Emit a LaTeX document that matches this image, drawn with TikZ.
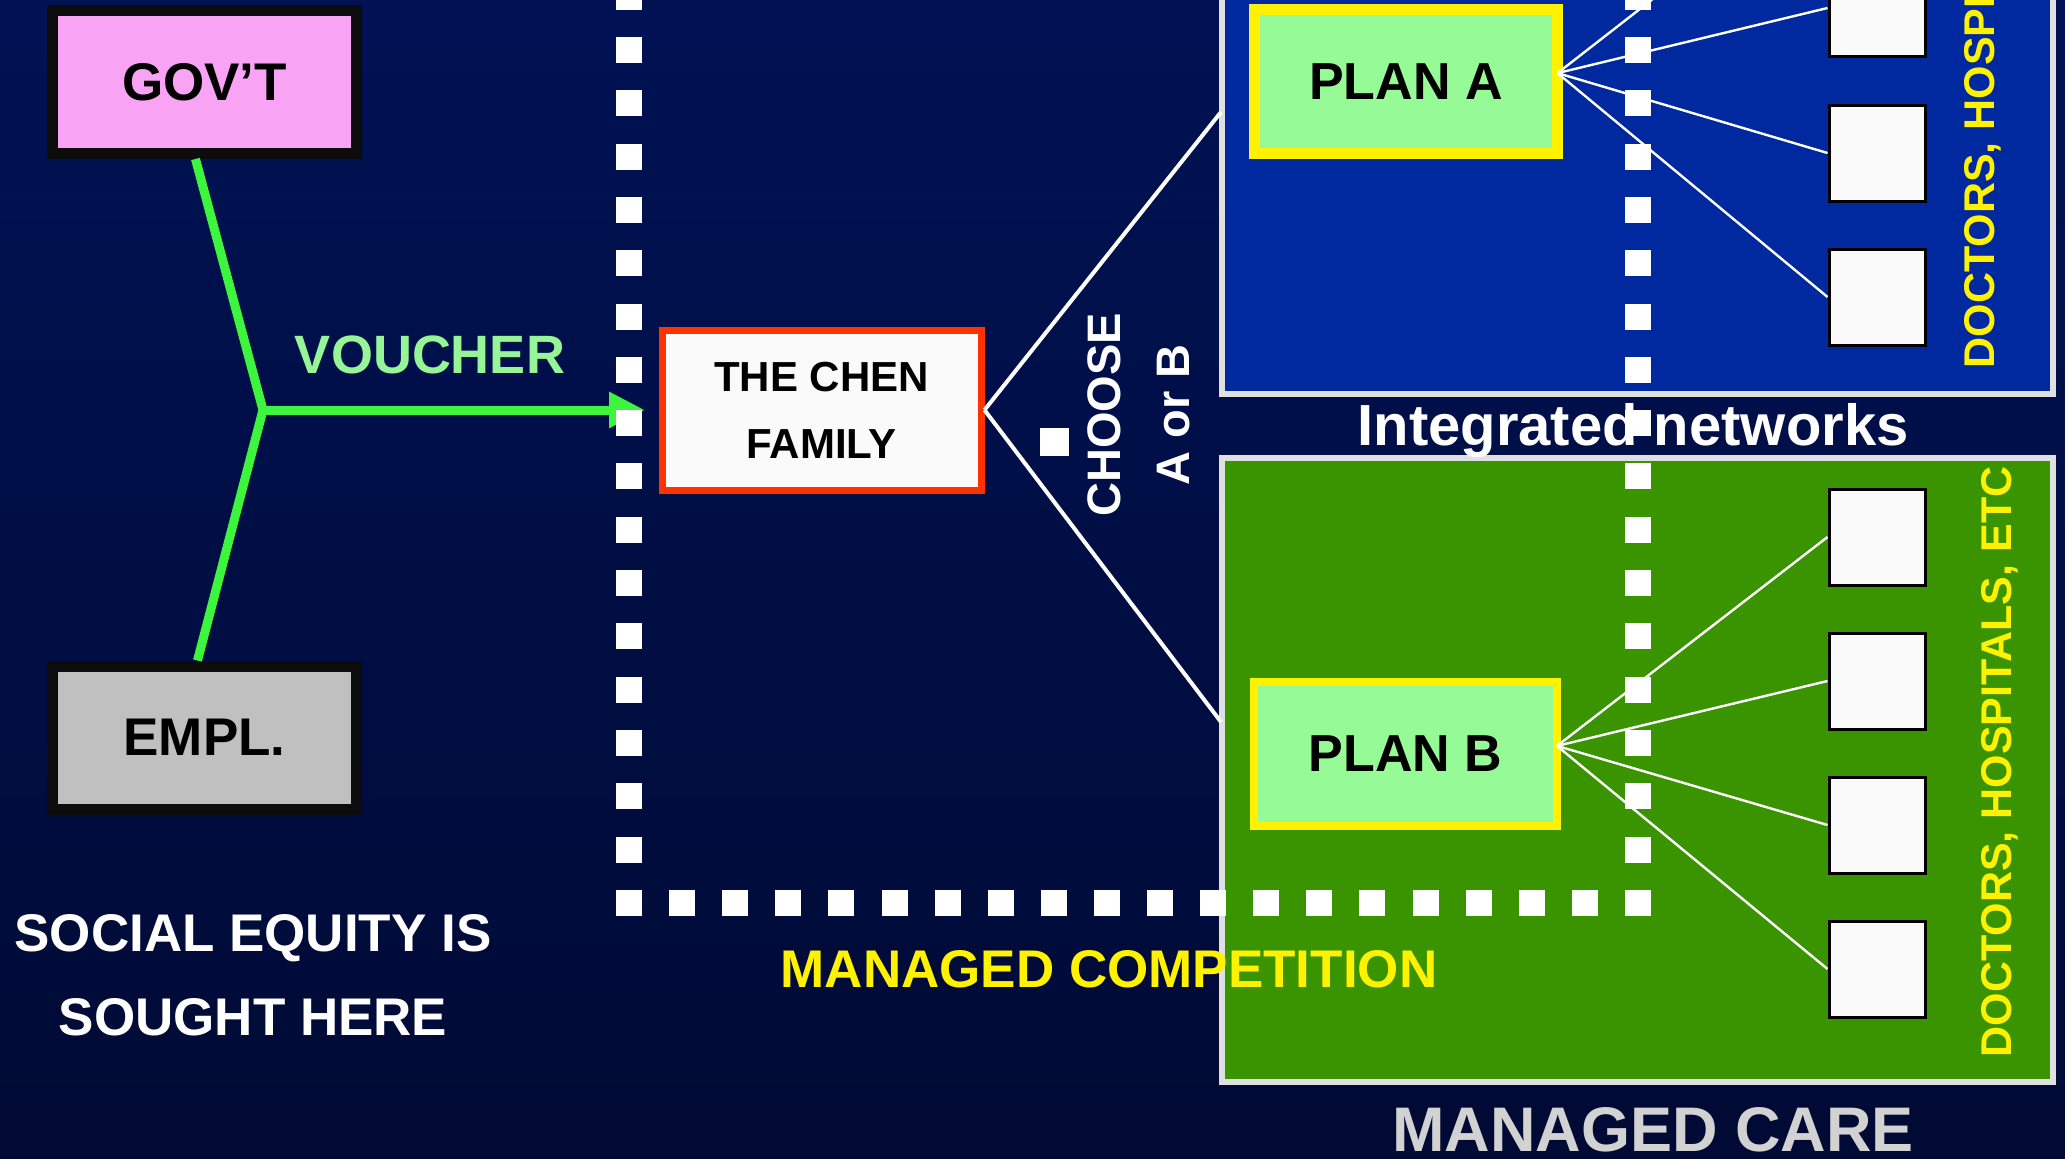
\documentclass[tikz,border=0pt]{standalone}
\usepackage{fontspec}
\setmainfont{Liberation Sans}
\usetikzlibrary{arrows.meta,calc}
\definecolor{bgtop}{RGB}{0,18,84}
\definecolor{bgmid}{RGB}{0,28,112}
\definecolor{bgbot}{RGB}{0,10,52}
\definecolor{panelblue}{RGB}{0,41,160}
\definecolor{panelgreen}{RGB}{58,148,0}
\definecolor{panelrim}{RGB}{224,224,224}
\definecolor{planfill}{RGB}{150,250,150}
\definecolor{govpink}{RGB}{249,163,245}
\definecolor{emplgray}{RGB}{192,192,192}
\definecolor{arrowgreen}{RGB}{60,245,60}
\definecolor{vouchergreen}{RGB}{150,245,150}
\definecolor{chenred}{RGB}{255,51,0}
\definecolor{offwhite}{RGB}{250,250,250}
\definecolor{caregray}{RGB}{210,210,210}
\definecolor{boxblack}{RGB}{12,12,12}
\tikzset{
  blackbox/.style={draw=boxblack, line width=5.5pt, inner sep=0pt,
    minimum width=152pt, minimum height=71.5pt, text=black,
    font=\fontsize{26.5}{30}\selectfont\bfseries},
  planbox/.style={draw=yellow, fill=planfill, inner sep=0pt, outer sep=0pt,
    minimum width=151.5pt, minimum height=72pt, text=black,
    font=\fontsize{26}{30}\selectfont\bfseries},
  panel/.style={draw=panelrim, line width=3pt, inner sep=0pt, minimum width=415.5pt},
  provider/.style={draw=black, line width=1.5pt, fill=offwhite, inner sep=0pt,
    minimum width=48pt, minimum height=48pt},
  greenline/.style={draw=arrowgreen, line width=4.5pt},
  chenline/.style={draw=white, line width=2pt},
  thinwhite/.style={draw=white, line width=1.2pt},
  doctext/.style={text=yellow, rotate=90, anchor=base, inner sep=0pt,
    font=\fontsize{21.5}{24}\selectfont\bfseries},
  choosetext/.style={text=white, rotate=90, anchor=base, inner sep=0pt,
    font=\fontsize{23.5}{26}\selectfont\bfseries},
  dotsq/.style={fill=white}
}
\begin{document}
\begin{tikzpicture}[x=0.5pt,y=-0.5pt]
\useasboundingbox (0,0) rectangle (2065,1158);
\clip (0,0) rectangle (2065,1158);
\shade[top color=bgtop, middle color=bgmid, bottom color=bgbot] (0,0) rectangle (2065,1158);

% panels
\node[panel, fill=panelblue, minimum height=397pt] (bluep) at (1637.5,-3) {};
\node[panel, fill=panelgreen, minimum height=312pt] (greenp) at (1637.5,770) {};

% left boxes
\node[blackbox, fill=govpink] (gov) at (204.5,82) {GOV’T};
\node[blackbox, fill=emplgray] (empl) at (204.5,737.5) {EMPL.};

% Chen family
\node[draw=chenred, line width=3.5pt, fill=offwhite, inner sep=0pt,
  minimum width=159.5pt, minimum height=80pt, align=center, text=black,
  font=\fontsize{21}{33.5}\selectfont\bfseries] (chen) at (821.5,410) {THE CHEN\\FAMILY};

% green voucher connectors
\coordinate (j) at (263,410);
\draw[greenline, line join=miter] ([xshift=-4.5pt]gov.south) -- (j) -- ([xshift=-3.5pt]empl.north);
\draw[greenline, -{Triangle[length=18pt,width=17pt]}] (j) -- ([xshift=-6.75pt]chen.west);
\node[text=vouchergreen, anchor=base, inner sep=0pt,
  font=\fontsize{27}{30}\selectfont\bfseries] (voucher) at (430,373) {VOUCHER};

% choose lines
\coordinate (ea) at (1221,112);
\coordinate (eb) at (1221,722);
\draw[chenline] (chen.east) -- (ea);
\draw[chenline] (chen.east) -- (eb);
\fill[white] (1040,428) rectangle (1069,456);
\node[choosetext] (choose) at (1120,415) {CHOOSE};
\node[choosetext] (aorb) at (1189,415) {A or B};

% plans
\node[planbox, line width=5.5pt] (planA) at (1406,81.5) {PLAN A};
\node[planbox, line width=4pt] (planB) at (1405.5,753.5) {PLAN B};

% providers
\node[provider] (pa4) at (1877,-137) {};
\node[provider] (pa1) at (1877,8) {};
\node[provider] (pa2) at (1877,153) {};
\node[provider] (pa3) at (1877,297) {};
\node[provider] (pb1) at (1877,537) {};
\node[provider] (pb2) at (1877,681) {};
\node[provider] (pb3) at (1877,825) {};
\node[provider] (pb4) at (1877,969) {};

\foreach \t in {pa4,pa1,pa2,pa3} \draw[thinwhite] ([yshift=4.2pt]planA.east) -- (\t.west);
\foreach \t in {pb1,pb2,pb3,pb4} \draw[thinwhite] ([yshift=3.8pt]planB.east) -- (\t.west);

\node[doctext] (docA) at (1994,73) {DOCTORS, HOSPITALS, ETC};
\node[doctext] (docB) at (2011,762) {DOCTORS, HOSPITALS, ETC};

\node[text=white, anchor=base, inner sep=0pt,
  font=\fontsize{29}{32}\selectfont\bfseries] (integ) at (1633,445) {Integrated networks};

% dotted boundaries
\foreach \k in {-1,...,16} {
  \fill[dotsq] ({629-13},{50+53.3*\k-13}) rectangle ++(26,26);
  \fill[dotsq] ({1638-13},{50+53.3*\k-13}) rectangle ++(26,26);
}
\foreach \i in {1,...,18} {
  \fill[dotsq] ({629+53.1*\i-13},890) rectangle ++(26,26);
}

\node[text=yellow, anchor=base, inner sep=0pt,
  font=\fontsize{26.5}{30}\selectfont\bfseries] (mcomp) at (1109,987) {MANAGED COMPETITION};
\node[text=caregray, anchor=base, inner sep=0pt,
  font=\fontsize{31.5}{34}\selectfont\bfseries] (mcare) at (1653,1151) {MANAGED CARE};

\node[text=white, anchor=base, inner sep=0pt,
  font=\fontsize{26.5}{30}\selectfont\bfseries] (soc1) at (253,951) {SOCIAL EQUITY IS};
\node[text=white, anchor=base, inner sep=0pt,
  font=\fontsize{26.5}{30}\selectfont\bfseries] (soc2) at (253,1035) {SOUGHT HERE};
\end{tikzpicture}
\end{document}
